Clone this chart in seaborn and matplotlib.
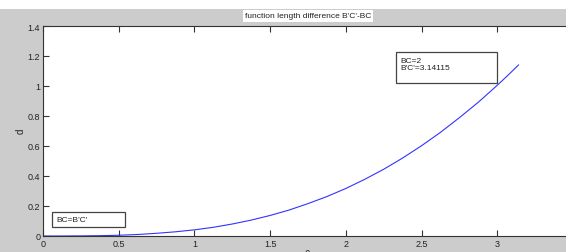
import matplotlib
matplotlib.use("Agg")
import matplotlib.pyplot as plt
from matplotlib.patches import Rectangle
import pandas as pd
import seaborn as sns

# angle (x) and length difference d = B'C' - BC
theta = [0.0, 0.125, 0.25, 0.375, 0.5, 0.625, 0.75, 0.875, 1.0, 1.125, 1.25,
         1.375, 1.5, 1.625, 1.75, 1.875, 2.0, 2.125, 2.25, 2.375, 2.5, 2.625,
         2.75, 2.875, 3.0, 3.0625, 3.14115]
d = [0.0, 0.0001, 0.0007, 0.0022, 0.005, 0.010, 0.018, 0.028, 0.041, 0.058,
     0.080, 0.106, 0.137, 0.173, 0.216, 0.263, 0.317, 0.378, 0.445, 0.520,
     0.602, 0.691, 0.789, 0.892, 1.005, 1.064, 1.141]

x_ticks = [0, 0.5, 1, 1.5, 2, 2.5, 3]
x_tick_labels = ["0", "0.5", "1", "1.5", "2", "2.5", "3"]
y_ticks = [0, 0.2, 0.4, 0.6, 0.8, 1.0, 1.2, 1.4]
y_tick_labels = ["0", "0.2", "0.4", "0.6", "0.8", "1", "1.2", "1.4"]

title = "function length difference B'C'-BC"
note_left = "BC=B'C'"
note_right = "BC=2\nB'C'=3.14115"

sns.set_theme(style="ticks")
plt.rcParams["font.family"] = ["Liberation Sans", "DejaVu Sans"]

W, H = 566, 253
fig = plt.figure(figsize=(W / 100, H / 100), dpi=100, facecolor="white")

# MATLAB-style grey figure area below a thin white strip
fig.patches.append(Rectangle((0, 0), 1, (H - 10) / H, transform=fig.transFigure,
                             facecolor="#cccccc", edgecolor="none", zorder=-10))

ax = fig.add_axes([43 / W, (H - 237) / H, 530 / W, 210 / H])
ax.set_facecolor("white")

df = pd.DataFrame({"theta": theta, "d": d})
sns.lineplot(data=df, x="theta", y="d", ax=ax, color="#3333ff", linewidth=0.8)

ax.set_xlim(0, 3.5)
ax.set_ylim(0, 1.4)
ax.set_xticks(x_ticks)
ax.set_xticklabels(x_tick_labels)
ax.set_yticks(y_ticks)
ax.set_yticklabels(y_tick_labels)
ax.tick_params(direction="in", length=4, width=0.8, colors="#333333",
               labelsize=6.5, labelcolor="#222222", top=True, pad=2)
for s in ax.spines.values():
    s.set_color("#333333")
    s.set_linewidth(0.8)
ax.set_xlabel("")
ax.set_ylabel("")

fig.text(308 / W, (H - 17) / H, title, ha="center", va="center", fontsize=6,
         color="#222222",
         bbox=dict(facecolor="white", edgecolor="none", pad=1.5))
fig.text(21 / W, (H - 131) / H, "d", ha="center", va="center", rotation=90,
         fontsize=7, color="#222222")
fig.text(307 / W, (H - 250.5) / H, "\u03b8", ha="center", va="top",
         fontsize=7, color="#222222")

# annotation boxes
ax.add_patch(Rectangle((0.06, 0.06), 0.48, 0.10, facecolor="white",
                       edgecolor="#444444", linewidth=0.9, zorder=3))
ax.text(0.09, 0.11, note_left, fontsize=6, va="center", ha="left",
        color="#222222", zorder=4)
ax.add_patch(Rectangle((2.33, 1.02), 0.67, 0.207, facecolor="white",
                       edgecolor="#444444", linewidth=0.9, zorder=3))
ax.text(2.36, 1.195, note_right, fontsize=6, va="top", ha="left",
        color="#222222", linespacing=1.1, zorder=4)

fig.savefig("out.png", dpi=100, facecolor=fig.get_facecolor())
